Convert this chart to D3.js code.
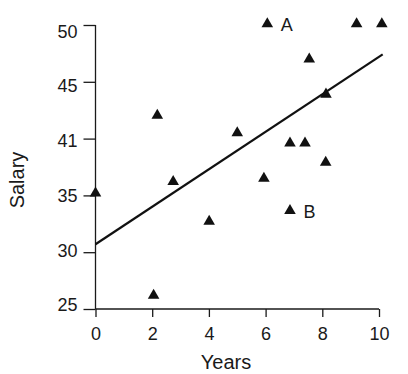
<!DOCTYPE html>
<html>
<head>
<meta charset="utf-8">
<script src="https://cdn.jsdelivr.net/npm/d3@7"></script>
<style>
  html, body { margin: 0; padding: 0; background: #fff; }
  svg { display: block; }
  text { font-family: "Liberation Sans", Arial, Helvetica, sans-serif; fill: #1a1a1a; }
</style>
</head>
<body>
<svg id="chart" width="408" height="374"></svg>
<script>
// Years of experience vs. salary, with fitted regression line
const years  = [0, 2.05, 2.18, 2.74, 4.01, 5.0, 5.94, 6.06, 6.86, 7.39, 6.86, 7.54, 8.13, 8.12, 9.21, 10.1];
const salary = [35.2, 26.2, 42.05, 36.2, 32.7, 40.5, 36.5, 50.1, 39.6, 39.6, 33.66, 47.0, 43.9, 37.9, 50.1, 50.1];
const pointLabels = ["", "", "", "", "", "", "", "A", "", "", "B", "", "", "", "", ""];

// Regression line (intercept, slope, x extent)
const fitIntercept = 30.7;
const fitSlope = 1.65;
const fitRange = [0, 10.13];

const xTicks = [0, 2, 4, 6, 8, 10];
const yTicks = [25, 30, 35, 40, 45, 50];
const yTickLabels = ["25", "30", "35", "41", "45", "50"];

const svg = d3.select("#chart");
const x = d3.scaleLinear().domain([0, 10]).range([95.5, 379]);
const y = d3.scaleLinear().domain([25, 50]).range([309, 25]);
// the y tick labels sit on a slightly tighter spacing than the ticks
const yLab = d3.scaleLinear().domain([25, 50]).range([305, 31.5]);

const ink = "#1a1a1a";

// Axes
const xAxis = d3.axisBottom(x).tickValues(xTicks).tickSize(8).tickPadding(10).tickFormat(d3.format("d"));
const yAxis = d3.axisLeft(y).tickValues(yTicks).tickSize(12).tickPadding(6)
  .tickFormat((d, i) => yTickLabels[i]);

const gx = svg.append("g").attr("transform", `translate(0,${y(25)})`).call(xAxis);
const gy = svg.append("g").attr("transform", `translate(${x(0)},0)`).call(yAxis);

[gx, gy].forEach(g => {
  g.select(".domain").remove();
  g.selectAll(".tick line").attr("stroke", ink).attr("stroke-width", 1.3);
  g.selectAll(".tick text").attr("font-size", 18).attr("fill", ink);
});
gy.selectAll(".tick text").attr("y", d => yLab(d) - y(d));

// Axis lines
svg.append("line")
  .attr("x1", x(0)).attr("x2", x(10)).attr("y1", y(25)).attr("y2", y(25))
  .attr("stroke", ink).attr("stroke-width", 1.3);
svg.append("line")
  .attr("x1", x(0)).attr("x2", x(0)).attr("y1", y(50)).attr("y2", y(25))
  .attr("stroke", ink).attr("stroke-width", 1.3);

// Axis titles
svg.append("text")
  .attr("x", 226).attr("y", 369)
  .attr("text-anchor", "middle").attr("font-size", 20)
  .text("Years");
svg.append("text")
  .attr("transform", "translate(24,180) rotate(-90)")
  .attr("text-anchor", "middle").attr("font-size", 20)
  .text("Salary");

// Regression line
svg.append("line")
  .attr("x1", x(fitRange[0])).attr("y1", y(fitIntercept + fitSlope * fitRange[0]))
  .attr("x2", x(fitRange[1])).attr("y2", y(fitIntercept + fitSlope * fitRange[1]))
  .attr("stroke", "#111").attr("stroke-width", 2.2);

// Points
const pts = years.map((d, i) => ({ x: d, y: salary[i], label: pointLabels[i] }));
const tri = d3.symbol().type(d3.symbolTriangle).size(58);
svg.append("g").selectAll("path").data(pts).join("path")
  .attr("d", tri)
  .attr("transform", d => `translate(${x(d.x)},${y(d.y)})`)
  .attr("fill", "#111");

svg.append("g").selectAll("text").data(pts.filter(d => d.label)).join("text")
  .attr("x", d => x(d.x) + 13.5)
  .attr("y", d => y(d.y) + 7)
  .attr("font-size", 18)
  .text(d => d.label);
</script>
</body>
</html>
